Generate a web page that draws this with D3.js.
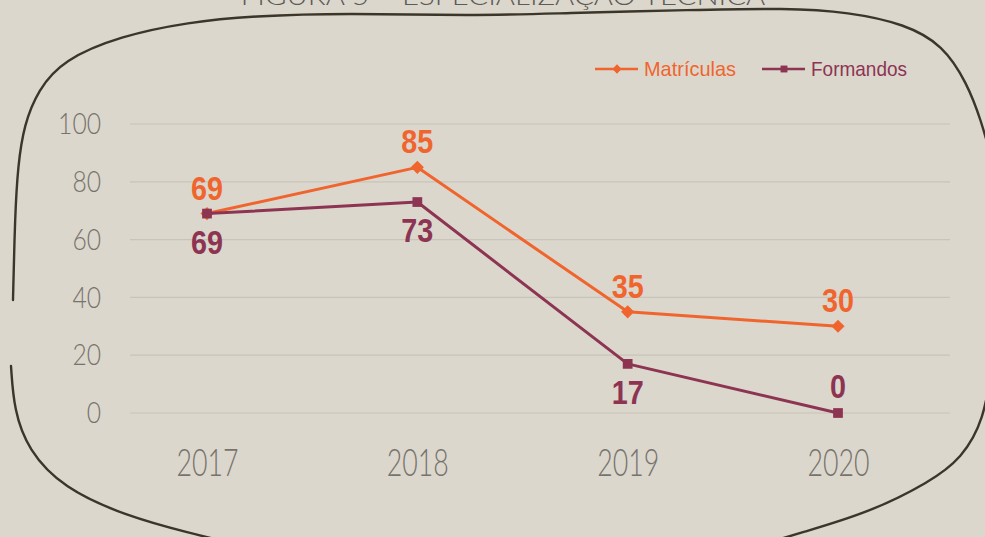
<!DOCTYPE html>
<html>
<head>
<meta charset="utf-8">
<script src="https://cdn.jsdelivr.net/npm/d3@7"></script>
<style>
  html, body { margin: 0; padding: 0; background: #dbd7cd; overflow: hidden; }
  svg { display: block; }
</style>
</head>
<body>
<svg id="chart"></svg>
<script>
// data
const years = ['2017', '2018', '2019', '2020']
const matriculas = [69, 85, 35, 30]
const formandos = [69, 73, 17, 0]
const yTicks = [0, 20, 40, 60, 80, 100]
const seriesNames = ['Matrículas', 'Formandos']
const title = 'FIGURA 5 – ESPECIALIZAÇÃO TÉCNICA'

// label side for each formandos point
const formandosLabelSide = ['below', 'below', 'below', 'above']

const width = 985
const height = 537
const margin = ({top: 124, right: 147, bottom: 124, left: 207})

const orange = '#f0652d'
const maroon = '#8d3452'

const axisFont = 'Lato, sans-serif'
const labelFont = '"Liberation Sans", Arimo, sans-serif'

const svg = d3.select('#chart')
    .attr('width', width)
    .attr('height', height)

// squeeze text to a narrow width per character (the original font is condensed)
const squeeze = (sel, perChar) => sel
    .attr('textLength', function() { return this.textContent.length * perChar })
    .attr('lengthAdjust', 'spacingAndGlyphs')

// hand drawn frame (decoration)
const frameTop = [[13, 300], [15, 215], [18, 165], [24, 125], [38, 90], [63, 60], [120, 36], [189, 22], [252, 16], [346, 13], [472, 16], [566, 13], [692, 10], [786, 8], [849, 12], [905, 24], [943, 45], [967, 83], [981, 120], [992, 160]]
const frameLeft = [[11, 366], [14, 410], [28, 450], [63, 488], [126, 516], [189, 533], [240, 545]]
const frameRight = [[992, 365], [984, 420], [962, 458], [930, 482], [868, 513], [800, 533], [760, 545]]

const frameLine = d3.line().curve(d3.curveBasis)
svg.append('g')
    .selectAll('path')
    .data([frameTop, frameLeft, frameRight])
    .join('path')
        .attr('d', frameLine)
        .attr('fill', 'none')
        .attr('stroke', '#3b3629')
        .attr('stroke-width', 2.4)
        .attr('stroke-linecap', 'round')

// title, cut at the top edge
svg.append('text')
    .attr('x', 503)
    .attr('y', 5)
    .attr('text-anchor', 'middle')
    .attr('font-family', axisFont)
    .attr('font-weight', 300)
    .attr('font-size', 25)
    .attr('fill', '#5d5a55')
    .text(title)
    .call(squeeze, 15.9)

// x-range
const x = d3.scalePoint()
    .domain(years)
    .range([margin.left, width - margin.right])

// y-range
const y = d3.scaleLinear()
    .domain([0, 100])
    .range([height - margin.bottom, margin.top])

// grid
svg.append('g')
    .selectAll('line')
    .data(yTicks)
    .join('line')
        .attr('x1', 130)
        .attr('x2', 950)
        .attr('y1', d => y(d))
        .attr('y2', d => y(d))
        .attr('stroke', '#c8c4ba')
        .attr('stroke-width', 1.2)

// y-axis
svg.append('g')
    .attr('transform', `translate(101, 0)`)
    .call(d3.axisLeft(y).tickValues(yTicks).tickSize(0).tickPadding(0))
    .call(g => g.select('.domain').remove())
    .selectAll('text')
        .attr('font-family', axisFont)
        .attr('font-weight', 300)
        .attr('font-size', 30)
        .attr('fill', '#77736c')
        .call(squeeze, 14.3)

// x-axis
svg.append('g')
    .attr('transform', `translate(0, ${height - margin.bottom})`)
    .call(d3.axisBottom(x).tickSize(0).tickPadding(37))
    .call(g => g.select('.domain').remove())
    .selectAll('text')
        .attr('font-family', axisFont)
        .attr('font-weight', 300)
        .attr('font-size', 37)
        .attr('fill', '#77736c')
        .call(squeeze, 15.5)

// lines
const line = d3.line()
    .x((d, i) => x(years[i]))
    .y(d => y(d))

const series = [
    {name: seriesNames[0], values: matriculas, color: orange, symbol: d3.symbolDiamond2, size: 110},
    {name: seriesNames[1], values: formandos, color: maroon, symbol: d3.symbolSquare, size: 95}
]

series.forEach(s => {
    svg.append('path')
        .datum(s.values)
        .attr('fill', 'none')
        .attr('stroke', s.color)
        .attr('stroke-width', 3)
        .attr('stroke-linejoin', 'round')
        .attr('stroke-linecap', 'round')
        .attr('d', line)

    svg.append('g')
        .selectAll('path')
        .data(s.values)
        .join('path')
            .attr('transform', (d, i) => `translate(${x(years[i])}, ${y(d)})`)
            .attr('d', d3.symbol(s.symbol, s.size))
            .attr('fill', s.color)
})

// value labels
svg.append('g')
    .selectAll('text')
    .data(matriculas)
    .join('text')
        .attr('x', (d, i) => x(years[i]))
        .attr('y', d => y(d) - 14)
        .attr('text-anchor', 'middle')
        .attr('font-family', labelFont)
        .attr('font-weight', 'bold')
        .attr('font-size', 34)
        .attr('fill', orange)
        .text(d => d)
        .call(squeeze, 16)

svg.append('g')
    .selectAll('text')
    .data(formandos)
    .join('text')
        .attr('x', (d, i) => x(years[i]))
        .attr('y', (d, i) => formandosLabelSide[i] === 'below' ? y(d) + 40 : y(d) - 15)
        .attr('text-anchor', 'middle')
        .attr('font-family', labelFont)
        .attr('font-weight', 'bold')
        .attr('font-size', 34)
        .attr('fill', maroon)
        .text(d => d)
        .call(squeeze, 16)

// legend
const legend = svg.append('g')
    .attr('transform', 'translate(595, 69)')

const legendX = [0, 167]
const legendTextWidth = [92, 96]

series.forEach((s, i) => {
    const g = legend.append('g').attr('transform', `translate(${legendX[i]}, 0)`)
    g.append('line')
        .attr('x1', 0)
        .attr('x2', 43)
        .attr('stroke', s.color)
        .attr('stroke-width', 2.5)
    g.append('path')
        .attr('transform', 'translate(22, 0)')
        .attr('d', d3.symbol(s.symbol, s.size * 0.5))
        .attr('fill', s.color)
    g.append('text')
        .attr('x', 49)
        .attr('dy', '0.35em')
        .attr('font-family', labelFont)
        .attr('font-size', 21)
        .attr('fill', s.color)
        .attr('textLength', legendTextWidth[i])
        .attr('lengthAdjust', 'spacingAndGlyphs')
        .text(s.name)
})
</script>
</body>
</html>
